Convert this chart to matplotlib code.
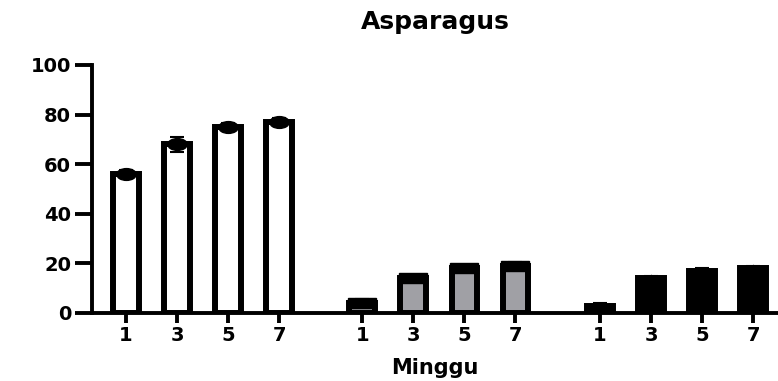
import matplotlib
matplotlib.use("Agg")
import matplotlib.pyplot as plt
from matplotlib.markers import MarkerStyle
from matplotlib.transforms import Affine2D
import numpy as np

weeks = ["1", "3", "5", "7"]
group1 = [56, 68, 75, 77]
group1_err = [1.5, 3.0, 1.5, 1.5]
group2 = [4, 14, 18, 19]
group2_err = [1.5, 1.5, 1.5, 1.5]
group3 = [3, 14, 17, 18]
group3_err = [1.0, 1.0, 1.0, 1.0]

plt.rcParams['font.family'] = ['DejaVu Sans']
fig = plt.figure(figsize=(7.78, 3.81), dpi=100)
ax = fig.add_axes([92/778, 68/381, 1 - 92/778, 248/381])

starts = [0, 4.63, 9.29]
groups = [group1, group2, group3]
errs = [group1_err, group2_err, group3_err]
faces = ["white", "#a0a0a5", "black"]
markers = [MarkerStyle("o", transform=Affine2D().scale(1.4, 0.85)),
           MarkerStyle("s", transform=Affine2D().scale(2.0, 0.7)),
           MarkerStyle("^", transform=Affine2D().scale(1.6, 0.6))]
msizes = [10, 10, 8]
allpos = []
for s, vals, e, fc, m, ms in zip(starts, groups, errs, faces, markers, msizes):
    pos = s + np.arange(len(vals))
    allpos.extend(pos)
    ax.bar(pos, vals, width=0.5, color=fc, edgecolor="black", linewidth=4.3, zorder=2)
    ax.errorbar(pos, vals, yerr=e, fmt="none", ecolor="black",
                capsize=5, elinewidth=1.5, capthick=1.5, zorder=3)
    ax.plot(pos, vals, linestyle="none", marker=m, color="black", markersize=ms, zorder=4)

ax.set_xlim(-0.667, 12.78)
ax.set_ylim(0, 100)
ax.set_xticks(allpos)
ax.set_xticklabels(weeks * 3, fontsize=14, fontweight="bold")
ax.set_yticks([0, 20, 40, 60, 80, 100])
ax.set_yticklabels(["0", "20", "40", "60", "80", "100"], fontsize=14, fontweight="bold")
for sp in ["top", "right"]:
    ax.spines[sp].set_visible(False)
for sp in ["left", "bottom"]:
    ax.spines[sp].set_linewidth(2.8)
ax.tick_params(axis="y", width=2.8, length=12, direction="out", pad=3)
ax.tick_params(axis="x", width=2.8, length=7.5, direction="out", pad=2)
ax.set_xlabel("Minggu", fontsize=15, fontweight="bold", labelpad=9)
ax.set_title("Asparagus", fontsize=18, fontweight="bold", pad=26)
fig.savefig("out.png", dpi=100)
